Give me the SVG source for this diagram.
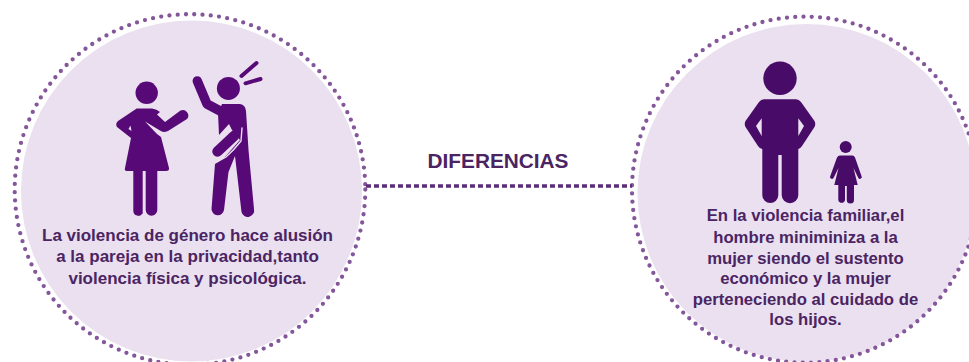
<svg xmlns="http://www.w3.org/2000/svg" width="969" height="362" viewBox="0 0 969 362">
<style>
.disc{fill:#eae0ef;stroke:none}
.ring{fill:none;stroke:#84569a;stroke-width:4.300;stroke-linecap:round;stroke-dasharray:0 8.300}
.conn{fill:none;stroke:#5e2d73;stroke-width:3.600;stroke-dasharray:5 3}
.t{font-family:"Liberation Sans",Arial,sans-serif;font-weight:700;fill:#4b2463;text-anchor:middle}
.body{font-size:17px}
.bodyr{font-size:16.700px}
.a{fill:#570a77}.as{fill:none;stroke:#570a77;stroke-linecap:round;stroke-linejoin:round}
.b{fill:#480c68}
.slit{fill:none;stroke:#eae0ef;stroke-width:1.400;stroke-linecap:round}
</style>
<rect width="969" height="362" fill="#ffffff"/>
<g id="node-left">
<circle class="disc" cx="191.500" cy="191" r="170.500"/>
<circle class="ring" cx="190" cy="189.500" r="175.300"/>
<circle class="a" cx="146.700" cy="92.800" r="11.200"/>
<path class="a" d="M136.700 108.500H152Q157 109 160 112L157 114.500L165 122L180.500 110.500A5.500 5.500 0 0 1 187 119L168 131Q163 133 160 130.500L145 121.500L157 134L161 137L169 168Q169.500 171 166 171H127Q124 171 125 168L131 138L117 127Q115 124 118 121Z"/>
<path fill="#eae0ef" d="M130.500 125.500L131.500 131L128.500 129Z"/>
<path class="a" d="M133.300 168H142.700V213.500L140 215.700C135 216 133.300 214 133.300 210ZM145.700 168H157.300V210A5.800 5.800 0 0 1 145.700 210Z"/>
<circle class="a" cx="228.400" cy="88.400" r="11.500"/>
<path class="as" stroke-width="9.500" d="M197.300 81L207 104L222 112"/>
<path class="a" d="M218 113L222 104H240Q245.500 105 246 111L248.500 150L254 209A6.200 6.200 0 0 1 241.500 212L235 156L228.500 172L224 210A6.300 6.300 0 0 1 211.500 209L215 164L224 158L240 140L232 130L229 124L219 135Z"/>
<path class="as" stroke-width="10.500" d="M217.500 151.500L234 136"/>
<path class="slit" d="M242 128L241 141Q234 150 226 157L217 162"/>
<path class="as" stroke-width="4" d="M241.500 76L256.500 63"/>
<path class="as" stroke-width="4" d="M245.500 83.300L260.500 79"/>
<text class="t body" x="187.500" y="240.500">La violencia de género hace alusión</text>
<text class="t body" x="187.500" y="261.500">a la pareja en la privacidad,tanto</text>
<text class="t body" x="187.500" y="283.500">violencia física y psicológica.</text>
</g>
<g id="node-right">
<circle class="disc" cx="806.500" cy="193" r="169"/>
<circle class="ring" cx="805" cy="189.700" r="173"/>
<circle class="b" cx="780" cy="78.300" r="16.700"/>
<path class="b" d="M764 99.300H796Q799 99.300 801 102L814.500 121Q816 124 814.500 127L802 146Q800 149 798.300 149V195A8 8 0 0 1 781.700 195V155H778.300V195A8 8 0 0 1 762.300 195V149Q760 149 758 146L745.500 127Q744 124 745.500 121L759 102Q761 99.300 764 99.300ZM761.700 118.300L756 126L761.700 136ZM798.300 118.300V136L804 126Z"/>
<circle class="b" cx="845.700" cy="147" r="6"/>
<path class="b" d="M840 155.500H852.500Q854 155.500 855 157.500L861.500 176A1.800 1.800 0 0 1 858.300 178L853.500 168L857.700 185H854V200A3.500 3.500 0 0 1 846.800 200V186H845V200A3.400 3.400 0 0 1 838.300 200V185H834.300L838.500 168L833.500 178A1.800 1.800 0 0 1 830.300 176L837 157.500Q838 155.500 840 155.500Z"/>
<text class="t bodyr" x="805.500" y="220.500">En la violencia familiar,el</text>
<text class="t bodyr" x="805.500" y="242.500">hombre miniminiza a la</text>
<text class="t bodyr" x="805.500" y="263.500">mujer siendo el sustento</text>
<text class="t bodyr" x="805.500" y="283.500">económico y la mujer</text>
<text class="t bodyr" x="805.500" y="304.500">perteneciendo al cuidado de</text>
<text class="t bodyr" x="805.500" y="324.500">los hijos.</text>
</g>
<g id="connectors"><path class="conn" d="M366 186H632"/></g>
<g id="label"><text class="t" style="font-size:20.800px" x="498" y="168.300">DIFERENCIAS</text></g>
</svg>
